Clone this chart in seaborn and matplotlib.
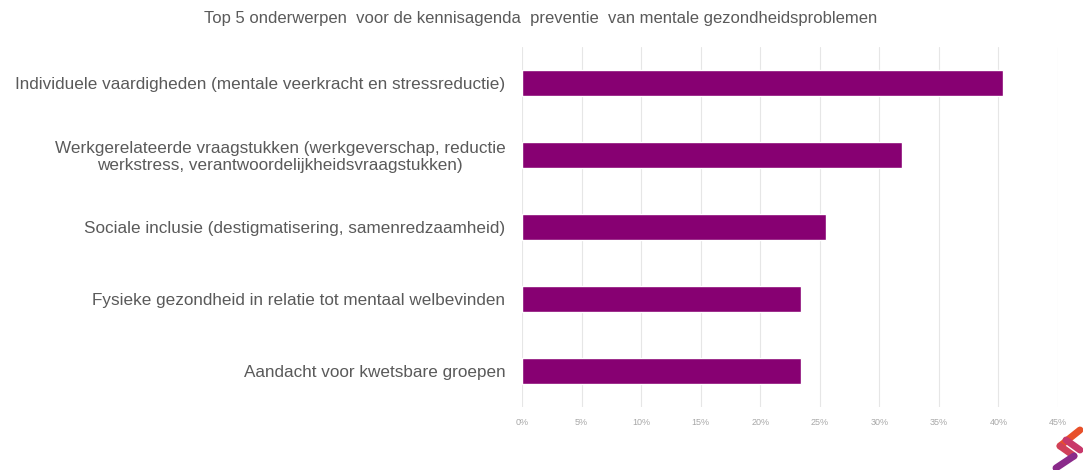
import matplotlib
matplotlib.use("Agg")
import matplotlib.pyplot as plt
import seaborn as sns
import pandas as pd
from matplotlib.lines import Line2D

categories = [
    "Individuele vaardigheden (mentale veerkracht en stressreductie)",
    "Werkgerelateerde vraagstukken (werkgeverschap, reductie\nwerkstress, verantwoordelijkheidsvraagstukken)",
    "Sociale inclusie (destigmatisering, samenredzaamheid)",
    "Fysieke gezondheid in relatie tot mentaal welbevinden",
    "Aandacht voor kwetsbare groepen",
]
values = [40.4, 31.9, 25.5, 23.4, 23.4]
tick_values = [0, 5, 10, 15, 20, 25, 30, 35, 40, 45]
tick_labels = ["0%", "5%", "10%", "15%", "20%", "25%", "30%", "35%", "40%", "45%"]
title = "Top 5 onderwerpen  voor de kennisagenda  preventie  van mentale gezondheidsproblemen"

sns.set_theme(style="white")
plt.rcParams["font.family"] = ["Liberation Sans", "DejaVu Sans"]

df = pd.DataFrame({"onderwerp": categories, "waarde": values})

fig = plt.figure(figsize=(10.83, 4.70), dpi=100)
ax = fig.add_axes([522 / 1083, 1 - 407 / 470, (1058 - 522) / 1083, 360 / 470])

sns.barplot(data=df, x="waarde", y="onderwerp", orient="h", color="#870072",
            width=0.35, ax=ax, saturation=1)

ax.set_xlim(0, 45)
ax.set_xticks(tick_values)
ax.set_xticklabels(tick_labels, fontsize=6.5, color="#a8a8a8")
ax.set_xlabel("")
ax.set_ylabel("")
ax.tick_params(axis="y", labelsize=12.3, colors="#5a5a5a", pad=12, length=0)
ax.tick_params(axis="x", pad=8, length=0)
for lbl in ax.get_yticklabels():
    lbl.set_horizontalalignment("right")
    lbl.set_multialignment("center")
    lbl.set_linespacing(1.15)
ax.grid(axis="x", color="#e6e6e6", linewidth=0.8)
ax.set_axisbelow(True)
for s in ax.spines.values():
    s.set_visible(False)

fig.text(541 / 1083, 1 - 18 / 470, title, ha="center", va="center",
         fontsize=12, color="#5a5a5a")

# small logo in the bottom-right corner
def seg(x0, y0, x1, y1, c):
    fig.add_artist(Line2D([x0 / 1083, x1 / 1083], [1 - y0 / 470, 1 - y1 / 470],
                          transform=fig.transFigure, color=c, lw=5,
                          solid_capstyle="round"))

seg(1080, 430, 1060, 446, "#e8502a")
seg(1060, 446, 1074, 456, "#d0405a")
seg(1074, 456, 1056, 468, "#8a2a8a")
seg(1066, 440, 1080, 450, "#c8386a")

fig.savefig("out.png", dpi=100)
